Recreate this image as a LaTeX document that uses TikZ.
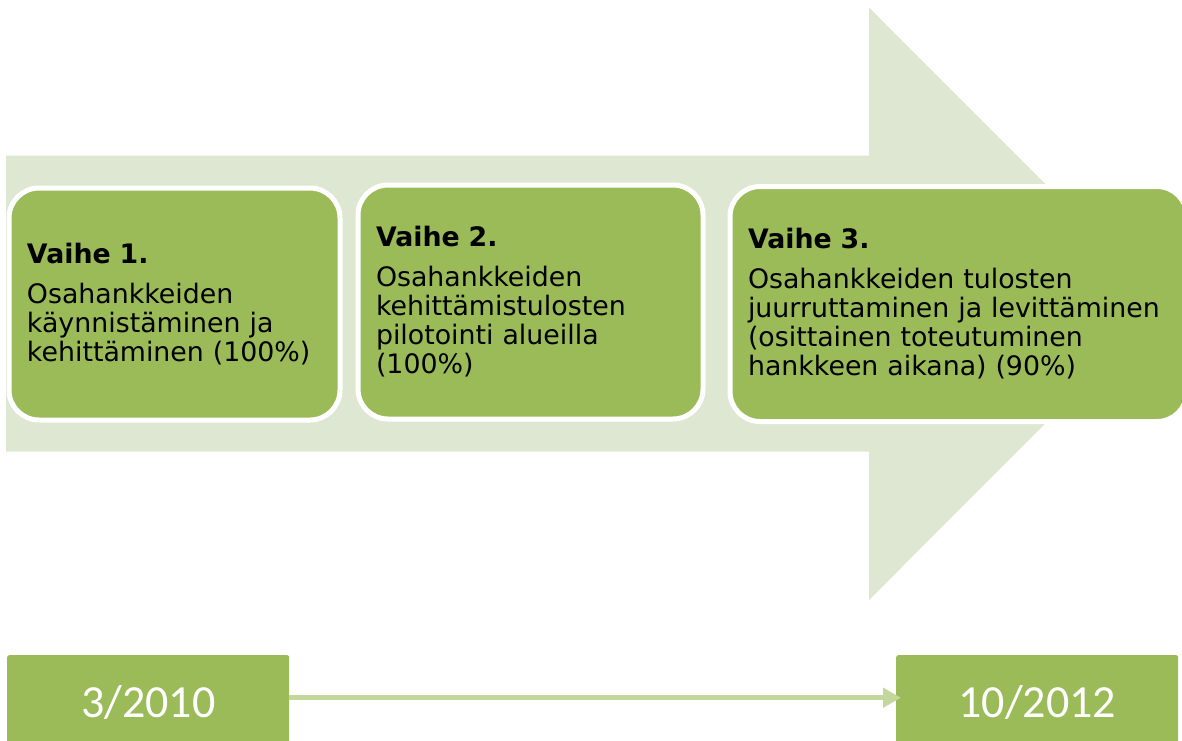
\documentclass[tikz,border=0pt]{standalone}
\usepackage{fontspec}
\setmainfont{DejaVu Sans}
\newfontfamily\datefont{Carlito}
\usetikzlibrary{arrows.meta}
\definecolor{shaftgreen}{RGB}{222,231,209}
\definecolor{phasegreen}{RGB}{155,187,89}
\definecolor{linkgreen}{RGB}{195,214,155}
\begin{document}
\begin{tikzpicture}[x=1pt,y=-1pt,
  phasebox/.style={draw=white, line width=5pt, fill=phasegreen,
    rounded corners=30pt, align=left, anchor=north west,
    inner xsep=18pt, inner ysep=0pt,
    font=\fontsize{26.8}{29}\selectfont},
  datebox/.style={fill=phasegreen, rounded corners=2pt, text=white,
    anchor=north west, inner sep=0pt, minimum width=282pt, minimum height=95pt,
    font=\datefont\fontsize{46}{50}\selectfont},
  timeline/.style={draw=linkgreen, line width=5pt,
    -{Triangle[length=18pt,width=19pt]}}
]
\useasboundingbox (0,0) rectangle (1182,740);

% big background arrow
\fill[shaftgreen] (6,155.5) -- (869,155.5) -- (869,7.5) -- (1165,303.75)
  -- (869,600) -- (869,451.5) -- (6,451.5) -- cycle;

% phase boxes
\node[phasebox, minimum height=232pt, text width=295pt] (p1) at (6.5,185.5)
  {\textbf{Vaihe 1.}\\[11pt]Osahankkeiden\\käynnistäminen ja\\kehittäminen (100\%)};
\node[phasebox, minimum height=234pt, text width=309pt] (p2) at (355.5,182.5)
  {\textbf{Vaihe 2.}\\[11pt]Osahankkeiden\\kehittämistulosten\\pilotointi alueilla\\(100\%)};
\node[phasebox, minimum height=235pt, text width=421pt] (p3) at (727.5,184)
  {\textbf{Vaihe 3.}\\[11pt]Osahankkeiden tulosten\\juurruttaminen ja levittäminen\\(osittainen toteutuminen\\hankkeen aikana) (90\%)};

% timeline
\node[datebox] (d1) at (7,655) {3/2010};
\node[datebox] (d2) at (896,655) {10/2012};
\draw[timeline, shorten >=-5pt] ([yshift=5pt]d1.east) -- ([yshift=5pt]d2.west);
\end{tikzpicture}
\end{document}
